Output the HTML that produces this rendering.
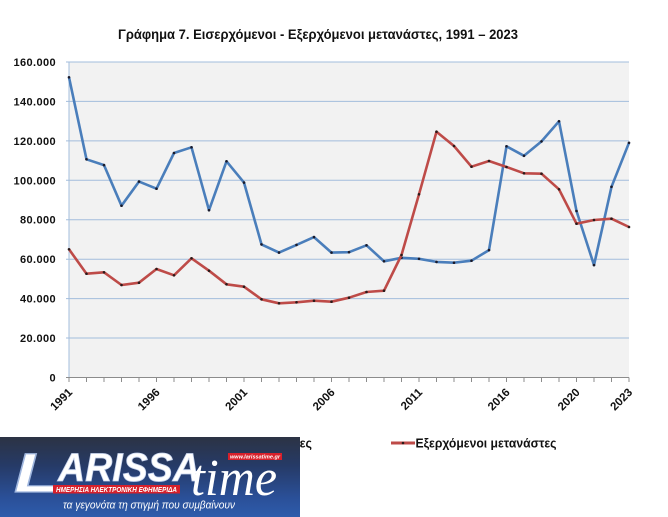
<!DOCTYPE html>
<html>
<head>
<meta charset="utf-8">
<style>
  html, body { margin:0; padding:0; background:#ffffff; }
  svg { display:block; }
  text { font-family: "Liberation Sans", "DejaVu Sans", sans-serif; }
  text.serif { font-family: "Liberation Serif", "DejaVu Serif", serif; }
</style>
</head>
<body>
<svg width="668" height="517" viewBox="0 0 668 517" xmlns="http://www.w3.org/2000/svg">
  <defs>
    <linearGradient id="lg" x1="0" y1="0" x2="0" y2="1">
      <stop offset="0" stop-color="#2c3344"/>
      <stop offset="0.35" stop-color="#263a66"/>
      <stop offset="0.75" stop-color="#2a4f97"/>
      <stop offset="1" stop-color="#2e5cab"/>
    </linearGradient>
  </defs>

  <!-- Title -->
  <text x="318" y="39" font-size="13.5" font-weight="bold" text-anchor="middle" fill="#111" textLength="400" lengthAdjust="spacingAndGlyphs">Γράφημα 7. Εισερχόμενοι - Εξερχόμενοι μετανάστες, 1991 – 2023</text>

  <!-- Plot area background -->
  <rect x="69" y="62" width="560" height="315.3" fill="#f2f2f2"/>

  <!-- Gridlines -->
  <g stroke="#a3bddc" stroke-width="1">
    <line x1="66" y1="62" x2="629" y2="62"/>
    <line x1="66" y1="101.4" x2="629" y2="101.4"/>
    <line x1="66" y1="140.9" x2="629" y2="140.9"/>
    <line x1="66" y1="180.3" x2="629" y2="180.3"/>
    <line x1="66" y1="219.7" x2="629" y2="219.7"/>
    <line x1="66" y1="259.2" x2="629" y2="259.2"/>
    <line x1="66" y1="298.6" x2="629" y2="298.6"/>
    <line x1="66" y1="338" x2="629" y2="338"/>
    <line x1="69" y1="62" x2="69" y2="377.5"/>
  </g>

  <!-- X axis -->
  <line x1="66" y1="377.5" x2="629" y2="377.5" stroke="#8c8c8c" stroke-width="1"/>
  <g stroke="#8c8c8c" stroke-width="1">
    <line x1="69" y1="377.5" x2="69" y2="382"/>
    <line x1="86.5" y1="377.5" x2="86.5" y2="382"/>
    <line x1="104" y1="377.5" x2="104" y2="382"/>
    <line x1="121.5" y1="377.5" x2="121.5" y2="382"/>
    <line x1="139" y1="377.5" x2="139" y2="382"/>
    <line x1="156.5" y1="377.5" x2="156.5" y2="382"/>
    <line x1="174" y1="377.5" x2="174" y2="382"/>
    <line x1="191.5" y1="377.5" x2="191.5" y2="382"/>
    <line x1="209" y1="377.5" x2="209" y2="382"/>
    <line x1="226.5" y1="377.5" x2="226.5" y2="382"/>
    <line x1="244" y1="377.5" x2="244" y2="382"/>
    <line x1="261.5" y1="377.5" x2="261.5" y2="382"/>
    <line x1="279" y1="377.5" x2="279" y2="382"/>
    <line x1="296.5" y1="377.5" x2="296.5" y2="382"/>
    <line x1="314" y1="377.5" x2="314" y2="382"/>
    <line x1="331.5" y1="377.5" x2="331.5" y2="382"/>
    <line x1="349" y1="377.5" x2="349" y2="382"/>
    <line x1="366.5" y1="377.5" x2="366.5" y2="382"/>
    <line x1="384" y1="377.5" x2="384" y2="382"/>
    <line x1="401.5" y1="377.5" x2="401.5" y2="382"/>
    <line x1="419" y1="377.5" x2="419" y2="382"/>
    <line x1="436.5" y1="377.5" x2="436.5" y2="382"/>
    <line x1="454" y1="377.5" x2="454" y2="382"/>
    <line x1="471.5" y1="377.5" x2="471.5" y2="382"/>
    <line x1="489" y1="377.5" x2="489" y2="382"/>
    <line x1="506.5" y1="377.5" x2="506.5" y2="382"/>
    <line x1="524" y1="377.5" x2="524" y2="382"/>
    <line x1="541.5" y1="377.5" x2="541.5" y2="382"/>
    <line x1="559" y1="377.5" x2="559" y2="382"/>
    <line x1="576.5" y1="377.5" x2="576.5" y2="382"/>
    <line x1="594" y1="377.5" x2="594" y2="382"/>
    <line x1="611.5" y1="377.5" x2="611.5" y2="382"/>
    <line x1="629" y1="377.5" x2="629" y2="382"/>
  </g>

  <!-- Y labels -->
  <g font-size="11" font-weight="bold" fill="#111" text-anchor="end" letter-spacing="0.4">
    <text x="56" y="66">160.000</text>
    <text x="56" y="105.4">140.000</text>
    <text x="56" y="144.9">120.000</text>
    <text x="56" y="184.3">100.000</text>
    <text x="56" y="223.7">80.000</text>
    <text x="56" y="263.2">60.000</text>
    <text x="56" y="302.6">40.000</text>
    <text x="56" y="342">20.000</text>
    <text x="56" y="381.5">0</text>
  </g>

  <!-- X labels -->
  <g font-size="11.5" font-weight="bold" fill="#111" text-anchor="end">
    <text transform="translate(73,393) rotate(-45)">1991</text>
    <text transform="translate(160.5,393) rotate(-45)">1996</text>
    <text transform="translate(248,393) rotate(-45)">2001</text>
    <text transform="translate(335.5,393) rotate(-45)">2006</text>
    <text transform="translate(423,393) rotate(-45)">2011</text>
    <text transform="translate(510.5,393) rotate(-45)">2016</text>
    <text transform="translate(580.5,393) rotate(-45)">2020</text>
    <text transform="translate(633,393) rotate(-45)">2023</text>
  </g>

  <!-- Blue series -->
  <polyline fill="none" stroke="#4a7ebb" stroke-width="2.6" stroke-linejoin="round"
    points="69,77.3 86.5,159.3 104,165.1 121.5,205.7 139,181.6 156.5,188.7 174,153 191.5,147.3 209,210.2 226.5,161.3 244,182.6 261.5,244.4 279,252.6 296.5,244.9 314,237.1 331.5,252.6 349,252.2 366.5,245.3 384,261.3 401.5,257.8 419,258.8 436.5,261.9 454,262.7 471.5,260.7 489,250.1 506.5,146.3 524,155.8 541.5,141.4 559,121.3 576.5,211 594,265.1 611.5,186.8 629,142.8"/>
  <g fill="#1a1a2a">
    <circle cx="69" cy="77.3" r="1.3"/><circle cx="86.5" cy="159.3" r="1.3"/><circle cx="104" cy="165.1" r="1.3"/><circle cx="121.5" cy="205.7" r="1.3"/><circle cx="139" cy="181.6" r="1.3"/><circle cx="156.5" cy="188.7" r="1.3"/><circle cx="174" cy="153" r="1.3"/><circle cx="191.5" cy="147.3" r="1.3"/><circle cx="209" cy="210.2" r="1.3"/><circle cx="226.5" cy="161.3" r="1.3"/><circle cx="244" cy="182.6" r="1.3"/><circle cx="261.5" cy="244.4" r="1.3"/><circle cx="279" cy="252.6" r="1.3"/><circle cx="296.5" cy="244.9" r="1.3"/><circle cx="314" cy="237.1" r="1.3"/><circle cx="331.5" cy="252.6" r="1.3"/><circle cx="349" cy="252.2" r="1.3"/><circle cx="366.5" cy="245.3" r="1.3"/><circle cx="384" cy="261.3" r="1.3"/><circle cx="401.5" cy="257.8" r="1.3"/><circle cx="419" cy="258.8" r="1.3"/><circle cx="436.5" cy="261.9" r="1.3"/><circle cx="454" cy="262.7" r="1.3"/><circle cx="471.5" cy="260.7" r="1.3"/><circle cx="489" cy="250.1" r="1.3"/><circle cx="506.5" cy="146.3" r="1.3"/><circle cx="524" cy="155.8" r="1.3"/><circle cx="541.5" cy="141.4" r="1.3"/><circle cx="559" cy="121.3" r="1.3"/><circle cx="576.5" cy="211" r="1.3"/><circle cx="594" cy="265.1" r="1.3"/><circle cx="611.5" cy="186.8" r="1.3"/><circle cx="629" cy="142.8" r="1.3"/>
  </g>

  <!-- Red series -->
  <polyline fill="none" stroke="#be4b48" stroke-width="2.6" stroke-linejoin="round"
    points="69,249.3 86.5,273.7 104,272.3 121.5,285 139,282.7 156.5,269 174,275.3 191.5,258.3 209,270.7 226.5,284.3 244,286.7 261.5,299.3 279,303.3 296.5,302.3 314,300.7 331.5,301.7 349,297.7 366.5,292 384,290.7 401.5,255 419,194.3 436.5,131.7 454,146 471.5,166.7 489,161 506.5,167 524,173.3 541.5,173.7 559,189.3 576.5,223.7 594,220 611.5,218.7 629,227"/>
  <g fill="#2a1a1a">
    <circle cx="69" cy="249.3" r="1.3"/><circle cx="86.5" cy="273.7" r="1.3"/><circle cx="104" cy="272.3" r="1.3"/><circle cx="121.5" cy="285" r="1.3"/><circle cx="139" cy="282.7" r="1.3"/><circle cx="156.5" cy="269" r="1.3"/><circle cx="174" cy="275.3" r="1.3"/><circle cx="191.5" cy="258.3" r="1.3"/><circle cx="209" cy="270.7" r="1.3"/><circle cx="226.5" cy="284.3" r="1.3"/><circle cx="244" cy="286.7" r="1.3"/><circle cx="261.5" cy="299.3" r="1.3"/><circle cx="279" cy="303.3" r="1.3"/><circle cx="296.5" cy="302.3" r="1.3"/><circle cx="314" cy="300.7" r="1.3"/><circle cx="331.5" cy="301.7" r="1.3"/><circle cx="349" cy="297.7" r="1.3"/><circle cx="366.5" cy="292" r="1.3"/><circle cx="384" cy="290.7" r="1.3"/><circle cx="401.5" cy="255" r="1.3"/><circle cx="419" cy="194.3" r="1.3"/><circle cx="436.5" cy="131.7" r="1.3"/><circle cx="454" cy="146" r="1.3"/><circle cx="471.5" cy="166.7" r="1.3"/><circle cx="489" cy="161" r="1.3"/><circle cx="506.5" cy="167" r="1.3"/><circle cx="524" cy="173.3" r="1.3"/><circle cx="541.5" cy="173.7" r="1.3"/><circle cx="559" cy="189.3" r="1.3"/><circle cx="576.5" cy="223.7" r="1.3"/><circle cx="594" cy="220" r="1.3"/><circle cx="611.5" cy="218.7" r="1.3"/><circle cx="629" cy="227" r="1.3"/>
  </g>

  <!-- Legend -->
  <line x1="137" y1="443" x2="160" y2="443" stroke="#4a7ebb" stroke-width="3"/>
  <text x="162" y="447.5" font-size="12.5" font-weight="bold" fill="#111" textLength="150" lengthAdjust="spacingAndGlyphs">Εισερχόμενοι μετανάστες</text>
  <line x1="391" y1="443" x2="415" y2="443" stroke="#be4b48" stroke-width="3"/>
  <circle cx="403" cy="443" r="1.3" fill="#2a1a1a"/>
  <text x="415.5" y="447.5" font-size="12.5" font-weight="bold" fill="#111" textLength="141" lengthAdjust="spacingAndGlyphs">Εξερχόμενοι μετανάστες</text>

  <!-- Logo -->
  <rect x="0" y="437" width="300" height="80" fill="url(#lg)"/>
  <!-- L -->
  <text x="14" y="492" font-size="56" font-weight="bold" font-style="italic" fill="#ffffff" stroke="#9fb6de" stroke-width="1.2" textLength="46" lengthAdjust="spacingAndGlyphs">L</text>
  <!-- ARISSA -->
  <text x="58" y="481" font-size="40" font-weight="bold" font-style="italic" fill="#ffffff" stroke="#c7d4ee" stroke-width="0.8" textLength="142" lengthAdjust="spacingAndGlyphs">ARISSA</text>
  <!-- time -->
  <text class="serif" x="191" y="495" font-size="52" font-style="italic" fill="#ffffff" textLength="86" lengthAdjust="spacingAndGlyphs">time</text>
  <!-- url box -->
  <rect x="228" y="453" width="54" height="7" fill="#d7202b"/>
  <text x="255" y="458.7" font-size="5.5" font-weight="bold" font-style="italic" fill="#ffffff" text-anchor="middle" textLength="50" lengthAdjust="spacingAndGlyphs">www.larissatime.gr</text>
  <!-- red banner -->
  <rect x="53" y="485" width="127" height="8.5" fill="#d7202b"/>
  <text x="116.5" y="492" font-size="7" font-weight="bold" font-style="italic" fill="#ffffff" text-anchor="middle" textLength="121" lengthAdjust="spacingAndGlyphs">ΗΜΕΡΗΣΙΑ ΗΛΕΚΤΡΟΝΙΚΗ ΕΦΗΜΕΡΙΔΑ</text>
  <!-- tagline -->
  <text x="149" y="508.5" font-size="11" font-style="italic" fill="#ffffff" text-anchor="middle" textLength="172" lengthAdjust="spacingAndGlyphs">τα γεγονότα τη στιγμή που συμβαίνουν</text>
</svg>
</body>
</html>
